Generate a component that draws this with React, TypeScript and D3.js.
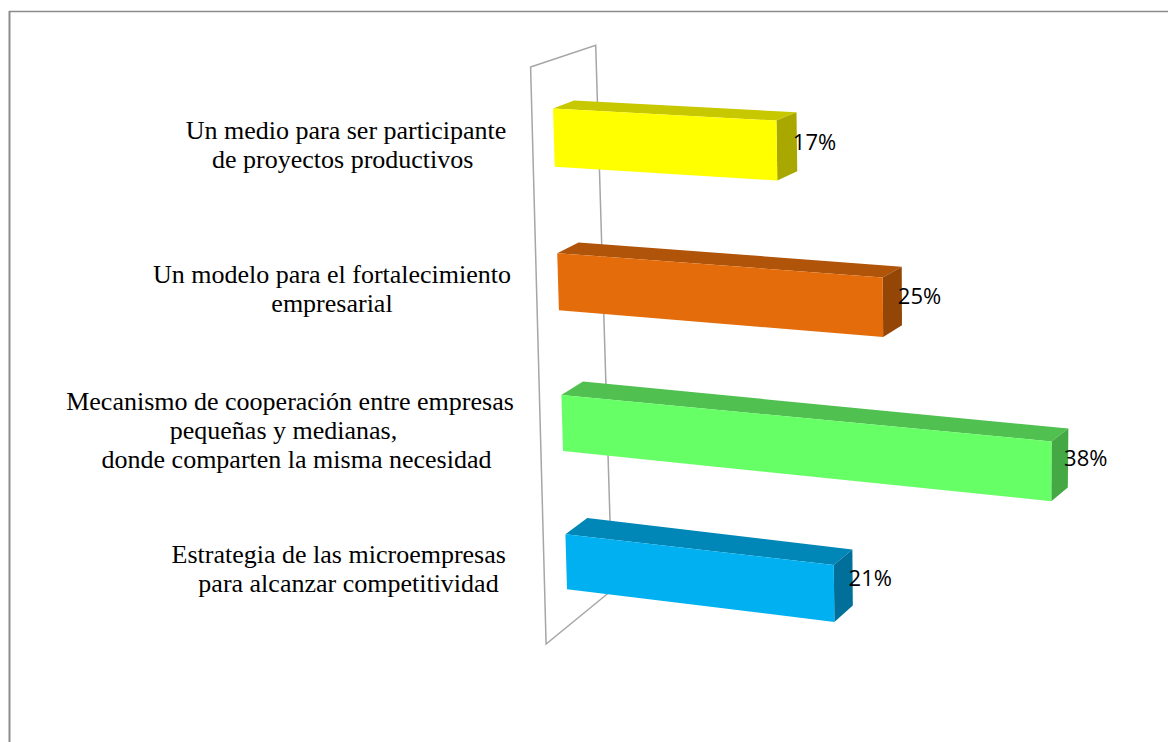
import React, { useEffect, useRef } from 'react';
import * as d3 from 'd3';

// Chart data
const categories = [
  ['Un medio para ser participante', 'de proyectos productivos '],
  ['Un modelo para el fortalecimiento', 'empresarial'],
  ['Mecanismo de cooperación entre empresas', 'pequeñas y medianas,  ', '  donde comparten la misma necesidad'],
  ['Estrategia de las microempresas ', '  para alcanzar competitividad'],
];
const values = [0.17, 0.25, 0.38, 0.21];
const frontColors = ['#ffff00', '#e46c0a', '#66ff66', '#00b0f0'];
const topColors = ['#c8c800', '#b0540a', '#50c050', '#0087b8'];
const sideColors = ['#a8a800', '#944606', '#44a844', '#00709a'];
const labelCenterX = [346, 332, 290, 342];

const W = 1168;
const H = 742;

// perspective-ish plane corners (front face of bars) and depth vectors
const front = { tl: [551.6, 60], tr: [1079, 85.2], bl: [568.1, 626], br: [1076.1, 691] };
const depth = { tl: [21, -7], tr: [19, -8], bl: [22, -18], br: [15, -16] };

const lerp = (a: number, b: number, t: number) => a + (b - a) * t;
const bil = (c: any, u: number, v: number) => {
  const tx = lerp(c.tl[0], c.tr[0], u), ty = lerp(c.tl[1], c.tr[1], u);
  const bx = lerp(c.bl[0], c.br[0], u), by = lerp(c.bl[1], c.br[1], u);
  return [lerp(tx, bx, v), lerp(ty, by, v)];
};
// slight foreshortening down the vertical axis
const warp = (v: number) => (v * 1.04) / (1 + 0.04 * v);
const P = (u: number, v: number, d: number) => {
  const w = warp(v);
  const f = bil(front, u, w);
  const o = bil(depth, u, w);
  return [f[0] + o[0] * d, f[1] + o[1] * d];
};

const App = () => {
  const svgRef = useRef<SVGSVGElement>(null);

  useEffect(() => {
    if (!svgRef.current) return;
    const svg = d3.select(svgRef.current);
    svg.selectAll('*').remove();

    const x = d3.scaleLinear().domain([0, 0.4]).range([0, 1]);
    const y = d3.scaleBand<number>()
      .domain(d3.range(values.length))
      .range([0, 1])
      .paddingInner(0.6)
      .paddingOuter(0.3)
      .align(0.55);

    const poly = (pts: number[][]) => 'M' + pts.map(p => p.join(',')).join('L') + 'Z';

    // chart area border
    svg.append('line').attr('x1', 9.5).attr('x2', 9.5).attr('y1', 11).attr('y2', H)
      .attr('stroke', '#8c8c8c').attr('stroke-width', 2);
    svg.append('line').attr('x1', 9).attr('x2', W).attr('y1', 11.5).attr('y2', 11.5)
      .attr('stroke', '#8c8c8c').attr('stroke-width', 1.5);

    // side wall
    svg.append('path')
      .attr('d', poly([P(0, 0, -1), P(0, 0, 2.1), P(0, 1, 2), P(0, 1, -1)]))
      .attr('fill', 'none')
      .attr('stroke', '#a6a6a6')
      .attr('stroke-width', 1.5);

    // bars
    values.forEach((val, i) => {
      const u = x(val);
      const v0 = y(i)!;
      const v1 = v0 + y.bandwidth();
      const g = svg.append('g');
      g.append('path')
        .attr('d', poly([P(0, v0, 0), P(u, v0, 0), P(u, v0, 1), P(0, v0, 1)]))
        .attr('fill', topColors[i]);
      g.append('path')
        .attr('d', poly([P(u, v0, 0), P(u, v0, 1), P(u, v1, 1), P(u, v1, 0)]))
        .attr('fill', sideColors[i]);
      g.append('path')
        .attr('d', poly([P(0, v0, 0), P(u, v0, 0), P(u, v1, 0), P(0, v1, 0)]))
        .attr('fill', frontColors[i]);

      // value label
      const lp = P(u, (v0 + v1) / 2, 1);
      svg.append('text')
        .attr('x', lp[0] - 4)
        .attr('y', lp[1] - 1)
        .attr('dominant-baseline', 'central')
        .attr('font-family', '"Open Sans", sans-serif')
        .attr('font-size', 22)
        .attr('fill', '#000')
        .text(d3.format('.0%')(val));

      // category label
      const lines = categories[i];
      const cy = P(0, (v0 + v1) / 2, 0)[1] + 7;
      const lh = 29;
      const t = svg.append('text')
        .attr('font-family', '"Liberation Serif", "Times New Roman", serif')
        .attr('font-size', 26)
        .attr('fill', '#000')
        .attr('text-anchor', 'middle')
        .style('white-space', 'pre');
      lines.forEach((ln, k) => {
        t.append('tspan')
          .attr('x', labelCenterX[i])
          .attr('y', cy - ((lines.length - 1) * lh) / 2 + 9 + k * lh)
          .text(ln);
      });
    });
  }, []);

  return (
    <div style={{ position: 'fixed', left: 0, top: 0, width: W, height: H, background: '#fff' }}>
      <svg ref={svgRef} width={W} height={H} />
    </div>
  );
};

export default App;
